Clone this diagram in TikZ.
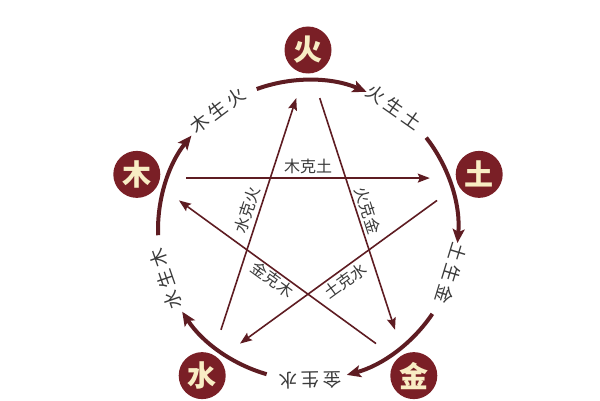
\documentclass[tikz,border=0pt]{standalone}
\usepackage{fontspec}
\newfontfamily\cjk{Noto Sans CJK SC}
\usetikzlibrary{arrows.meta,calc}
\definecolor{wxred}{HTML}{7A1F26}
\definecolor{wxline}{HTML}{5E1C22}
\definecolor{wxtext}{HTML}{3A3A3A}
\definecolor{wxgold}{HTML}{F8EDC4}
\begin{document}
\begin{tikzpicture}[x=1pt,y=1pt,
  element/.style={circle,fill=wxred,minimum size=47pt,inner sep=0pt,text=wxgold,font=\cjk\bfseries\fontsize{29}{29}\selectfont},
  ringlabel/.style={text=wxtext,font=\cjk\fontsize{18.5}{18.5}\selectfont,inner sep=0pt},
  kelabel/.style={text=wxtext,font=\cjk\fontsize{16}{16}\selectfont,inner sep=0pt},
  ringarrow/.style={draw=wxline,line width=4pt,-{Stealth[length=14pt,width=12pt,inset=3pt]}},
  kearrow/.style={draw=wxline,line width=1.6pt,-{Stealth[length=12pt,width=9pt,inset=2pt]},shorten <=38pt,shorten >=38pt}
]
\useasboundingbox (0,0) rectangle (600,400);
\coordinate (C) at (308,170);
% pentagram vertices
\coordinate (Vhuo) at ($(C)+(90:168)$);
\coordinate (Vtu) at ($(C)+(18:168)$);
\coordinate (Vjin) at ($(C)+(-54:168)$);
\coordinate (Vshui) at ($(C)+(-126:168)$);
\coordinate (Vmu) at ($(C)+(162:168)$);
% elements
\node[element] (huo) at ($(C)+(90:180)$) {火};
\node[element] (tu) at ($(C)+(18:180)$) {土};
\node[element] (jin) at ($(C)+(-54:180)$) {金};
\node[element] (shui) at ($(C)+(-126:180)$) {水};
\node[element] (mu) at ($(C)+(162:180)$) {木};
% generating ring
\coordinate (a1) at ($(C)+(182:150)$);
\coordinate (a2) at ($(C)+(110:150)$);
\coordinate (a3) at ($(C)+(38:150)$);
\coordinate (a4) at ($(C)+(-34:150)$);
\coordinate (a5) at ($(C)+(-106:150)$);
\draw[ringarrow] (a1) arc[start angle=182, end angle=141, radius=150];
\draw[ringarrow] (a2) arc[start angle=110, end angle=67, radius=150];
\draw[ringarrow] (a3) arc[start angle=38, end angle=-5, radius=150];
\draw[ringarrow] (a4) arc[start angle=-34, end angle=-75, radius=150];
\draw[ringarrow] (a5) arc[start angle=-106, end angle=-147, radius=150];
% ring labels
\node[ringlabel,rotate=37] (g1) at ($(C)+(127:150)$) {木\hspace{3.5pt}生\hspace{3.5pt}火};
\node[ringlabel,rotate=-35] (g2) at ($(C)+(55:150)$) {火\hspace{3.5pt}生\hspace{3.5pt}土};
\node[ringlabel,rotate=-107] (g3) at ($(C)+(-17:150)$) {土\hspace{3.5pt}生\hspace{3.5pt}金};
\node[ringlabel,rotate=-179] (g4) at ($(C)+(-89:150)$) {金\hspace{3.5pt}生\hspace{3.5pt}水};
\node[ringlabel,rotate=109] (g5) at ($(C)+(-161:150)$) {水\hspace{3.5pt}生\hspace{3.5pt}木};
% controlling star
\draw[kearrow] (Vmu) -- (Vtu);
\draw[kearrow] (Vtu) -- (Vshui);
\draw[kearrow] (Vshui) -- (Vhuo);
\draw[kearrow] (Vhuo) -- (Vjin);
\draw[kearrow] (Vjin) -- (Vmu);
% star labels
\node[kelabel] (k1) at ($(C)+(90:64)$) {木克土};
\node[kelabel,rotate=-72] (k2) at ($(C)+(18:63)$) {火克金};
\node[kelabel,rotate=36] (k3) at ($(C)+(-54:63)$) {土克水};
\node[kelabel,rotate=-36] (k4) at ($(C)+(-126:61)$) {金克木};
\node[kelabel,rotate=72] (k5) at ($(C)+(162:64)$) {水克火};
\end{tikzpicture}
\end{document}
